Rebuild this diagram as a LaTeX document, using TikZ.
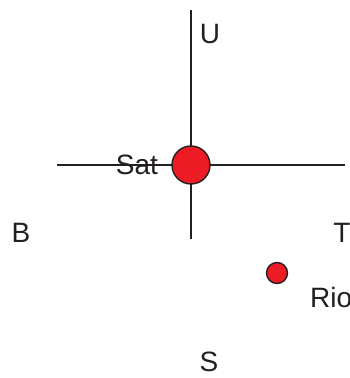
\documentclass[tikz,border=0pt]{standalone}
\usepackage{fontspec}
\setmainfont{Liberation Sans}
\usetikzlibrary{positioning}
\definecolor{dotred}{HTML}{ED1C24}
\definecolor{inkgray}{HTML}{231F20}

\begin{document}
\begin{tikzpicture}[
    x=0.5pt, y=0.5pt,
    every node/.style={font=\fontsize{14}{16}\selectfont, text=inkgray},
    axis/.style={draw=inkgray, line width=1.1pt},
    planet/.style={circle, draw=inkgray, line width=0.7pt, fill=dotred, inner sep=0pt, minimum size=19pt},
    city/.style={circle, draw=inkgray, line width=0.7pt, fill=dotred, inner sep=0pt, minimum size=10.5pt}
]
\path[use as bounding box, clip] (0,0) rectangle (349,378);
\coordinate (top) at (191,368);
\coordinate (bottom) at (191,139);
\coordinate (west) at (57,213);
\coordinate (east) at (345,213);
\draw[axis] (top) -- (bottom);
\draw[axis] (west) -- (east);
\node[planet] (sat) at (191,213) {};
\node (satlabel) at (137,213) {Sat};
\node[city] (rio) at (277,105) {};
\node[anchor=west] (riolabel) at (303,81) {Rio};
\node (up) at (210,344) {U};
\node (back) at (21,145) {B};
\node (toward) at (342,145) {T};
\node (south) at (209,16) {S};
\end{tikzpicture}
\end{document}
